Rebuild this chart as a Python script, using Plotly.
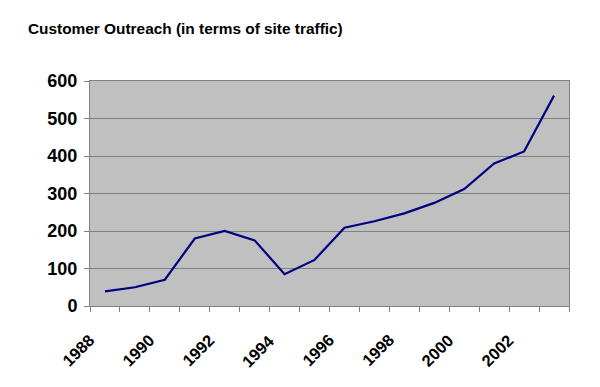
import plotly.graph_objects as go

years = list(range(1988, 2004))
traffic = [39, 50, 70, 180, 200, 175, 85, 123, 209, 226, 247, 275, 312, 380, 412, 561]
label_years = [1988, 1990, 1992, 1994, 1996, 1998, 2000, 2002]
y_ticks = [0, 100, 200, 300, 400, 500, 600]

fig = go.Figure()
fig.add_trace(go.Scatter(x=years, y=traffic, mode="lines",
                         line=dict(color="#000080", width=2.2)))

font = "Liberation Sans, Arial, sans-serif"
fig.update_layout(
    width=600, height=387,
    margin=dict(l=90, r=31, t=81, b=81),
    paper_bgcolor="white", plot_bgcolor="#C0C0C0",
    showlegend=False,
    title=dict(text="<b>Customer Outreach (in terms of site traffic)</b>",
               xref="container", x=28/600, xanchor="left",
               yref="container", y=1-28.5/387, yanchor="middle",
               pad=dict(l=0, r=0, t=0, b=0),
               font=dict(family=font, size=15.4, color="black")),
)
for yr in label_years:
    fig.add_annotation(x=yr, xref="x", y=0, yref="paper", text=str(yr),
                       showarrow=False, textangle=-45,
                       xanchor="right", yanchor="top", xshift=-4, yshift=-22,
                       font=dict(family=font, size=16.5, color="black", weight="bold"))

fig.update_xaxes(
    range=[years[0]-0.5, years[-1]+0.5],
    tickmode="linear", tick0=years[0]-0.5, dtick=1,
    ticks="outside", ticklen=5, tickcolor="#808080", showticklabels=False,
    showgrid=False, zeroline=False,
    showline=True, linecolor="#808080", linewidth=1, mirror=True,
)
fig.update_yaxes(
    range=[0, 600], tickmode="array", tickvals=y_ticks,
    ticks="outside", ticklen=5, tickcolor="#808080",
    ticklabelstandoff=3,
    showgrid=True, gridcolor="#808080", gridwidth=1, zeroline=False,
    showline=True, linecolor="#808080", linewidth=1, mirror=True,
    tickfont=dict(family=font, size=18, color="black", weight="bold"),
)
fig.write_html("out.html", config={"displayModeBar": False},
               post_script="document.body.style.margin='0';document.body.style.padding='0';")
